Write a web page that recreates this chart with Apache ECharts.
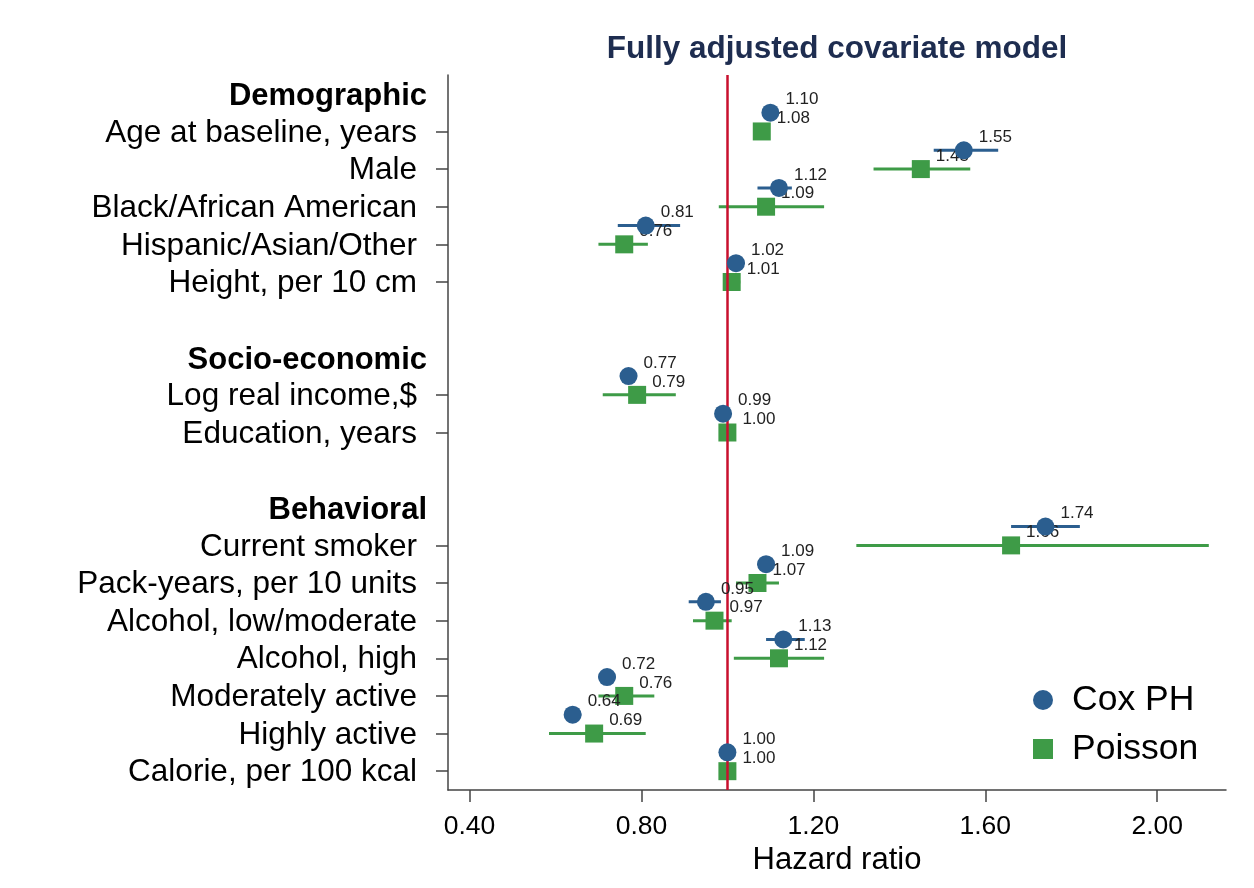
<!DOCTYPE html>
<html>
<head>
<meta charset="utf-8">
<script src="https://cdn.jsdelivr.net/npm/echarts@6/dist/echarts.min.js"></script>
<style>html,body{margin:0;padding:0;background:#fff;}#c{width:1254px;height:888px;}</style>
</head>
<body>
<div id="c"></div>
<script>
// ---- data ----
const rows = ['Demographic', 'Age at baseline, years', 'Male', 'Black/African American',
  'Hispanic/Asian/Other', 'Height, per 10 cm', ' ', 'Socio-economic', 'Log real income,$',
  'Education, years', '  ', 'Behavioral', 'Current smoker', 'Pack-years, per 10 units',
  'Alcohol, low/moderate', 'Alcohol, high', 'Moderately active', 'Highly active', 'Calorie, per 100 kcal'];
const headers = ['Demographic', 'Socio-economic', 'Behavioral'];
const variables = ['Age at baseline, years', 'Male', 'Black/African American', 'Hispanic/Asian/Other',
  'Height, per 10 cm', 'Log real income,$', 'Education, years', 'Current smoker',
  'Pack-years, per 10 units', 'Alcohol, low/moderate', 'Alcohol, high', 'Moderately active',
  'Highly active', 'Calorie, per 100 kcal'];
const coxHR = [1.10, 1.55, 1.12, 0.81, 1.02, 0.77, 0.99, 1.74, 1.09, 0.95, 1.13, 0.72, 0.64, 1.00];
const coxLo = [1.09, 1.48, 1.07, 0.745, 1.00, 0.75, 0.98, 1.66, 1.07, 0.91, 1.09, 0.70, 0.62, 0.99];
const coxHi = [1.11, 1.63, 1.15, 0.89, 1.04, 0.79, 1.00, 1.82, 1.11, 0.985, 1.18, 0.74, 0.66, 1.01];
const poisHR = [1.08, 1.45, 1.09, 0.76, 1.01, 0.79, 1.00, 1.66, 1.07, 0.97, 1.12, 0.76, 0.69, 1.00];
const poisLo = [1.07, 1.34, 0.98, 0.70, 0.99, 0.71, 0.99, 1.30, 1.02, 0.92, 1.015, 0.70, 0.585, 0.99];
const poisHi = [1.09, 1.565, 1.225, 0.815, 1.03, 0.88, 1.01, 2.12, 1.12, 1.01, 1.225, 0.83, 0.81, 1.01];
const xTicks = [0.40, 0.80, 1.20, 1.60, 2.00];

// ---- layout / style ----
const W = 1254, H = 888;
const gridTop = 75, gridBottom = 98, gridLeft = 448, gridRight = 28;
const band = (H - gridTop - gridBottom) / rows.length;
const BLUE = '#2b5e8f', GREEN = '#3e9b47', RED = '#c8102e';
const FONT = "'Liberation Sans', Arial, sans-serif";

const rowIdx = variables.map(v => rows.indexOf(v));
const coxPts = coxHR.map((v, i) => [v, rowIdx[i]]);
const poisPts = poisHR.map((v, i) => [v, rowIdx[i]]);
const coxCI = coxLo.map((v, i) => [rowIdx[i], v, coxHi[i]]);
const poisCI = poisLo.map((v, i) => [rowIdx[i], v, poisHi[i]]);

function errRender(color, shiftFrac) {
  return function (params, api) {
    const r = api.value(0);
    const p1 = api.coord([api.value(1), r]);
    const p2 = api.coord([api.value(2), r]);
    const dy = api.size([0, 1])[1] * shiftFrac;
    return {
      type: 'line',
      shape: { x1: p1[0], y1: p1[1] + dy, x2: p2[0], y2: p2[1] + dy },
      style: { stroke: color, lineWidth: 3 }
    };
  };
}

const labelCfg = {
  show: true, position: 'right', distance: 6, offset: [0, -13],
  fontSize: 17, color: '#222', fontFamily: FONT,
  formatter: p => p.value[0].toFixed(2)
};

const chart = echarts.init(document.getElementById('c'), null, { renderer: 'canvas' });
chart.setOption({
  backgroundColor: '#fff',
  animation: false,
  title: {
    text: 'Fully adjusted covariate model',
    left: 837, top: 33, textAlign: 'center', padding: 0,
    textStyle: { fontSize: 31.5, fontWeight: 'bold', color: '#1e2d50', fontFamily: FONT }
  },
  legend: {
    orient: 'vertical', left: 1028, top: 675, itemWidth: 20, itemHeight: 20, itemGap: 9,
    selectedMode: false,
    data: [{ name: 'Cox PH', icon: 'circle' }, { name: 'Poisson', icon: 'rect' }],
    textStyle: { fontSize: 35.5, color: '#000', fontFamily: FONT, padding: [0, 0, 0, 14], lineHeight: 40 }
  },
  grid: { left: gridLeft, right: gridRight, top: gridTop, bottom: gridBottom, containLabel: false },
  xAxis: {
    type: 'value', min: 0.35, max: 2.16,
    name: 'Hazard ratio', nameLocation: 'middle', nameGap: 43,
    nameTextStyle: { fontSize: 31, color: '#000', fontFamily: FONT },
    axisLine: { show: true, lineStyle: { color: '#444', width: 1.5 } },
    axisTick: { show: true, length: 12, customValues: xTicks, lineStyle: { color: '#444', width: 1.5 } },
    axisLabel: { customValues: xTicks, margin: 23, fontSize: 26.5, color: '#000', fontFamily: FONT,
      formatter: v => v.toFixed(2) },
    splitLine: { show: false }
  },
  yAxis: {
    type: 'category', data: rows, inverse: true, boundaryGap: true,
    axisLine: { show: true, lineStyle: { color: '#444', width: 1.5 } },
    axisTick: { show: true, length: 12, alignWithLabel: true,
      interval: (i, v) => variables.indexOf(v) >= 0, lineStyle: { color: '#444', width: 1.5 } },
    axisLabel: {
      interval: 0, margin: 21, fontFamily: FONT,
      formatter: v => headers.indexOf(v) >= 0 ? '{h|' + v + '}' : (v.trim() ? '{n|' + v + '}' : ''),
      rich: {
        h: { fontSize: 31, fontWeight: 'bold', color: '#000', fontFamily: FONT, padding: [6, 0, 0, 0] },
        n: { fontSize: 31.5, color: '#000', fontFamily: FONT, padding: [3, 10, 0, 0] }
      }
    },
    splitLine: { show: false }
  },
  series: [
    {
      name: 'Poisson CI', type: 'custom', data: poisCI, z: 2,
      encode: { x: [1, 2], y: 0 },
      renderItem: errRender(GREEN, 0),
      markLine: {
        silent: true, symbol: 'none', label: { show: false },
        lineStyle: { color: RED, width: 2.5, type: 'solid' },
        data: [{ xAxis: 1.0 }]
      }
    },
    {
      name: 'Cox CI', type: 'custom', data: coxCI, z: 2,
      encode: { x: [1, 2], y: 0 },
      renderItem: errRender(BLUE, -0.5)
    },
    {
      name: 'Poisson', type: 'scatter', data: poisPts, z: 4,
      symbol: 'rect', symbolSize: 18, itemStyle: { color: GREEN, opacity: 1 },
      label: labelCfg
    },
    {
      name: 'Cox PH', type: 'scatter', data: coxPts, z: 5,
      symbol: 'circle', symbolSize: 18, symbolOffset: [0, -band / 2],
      itemStyle: { color: BLUE, opacity: 1 },
      label: labelCfg
    }
  ]
});
</script>
</body>
</html>
